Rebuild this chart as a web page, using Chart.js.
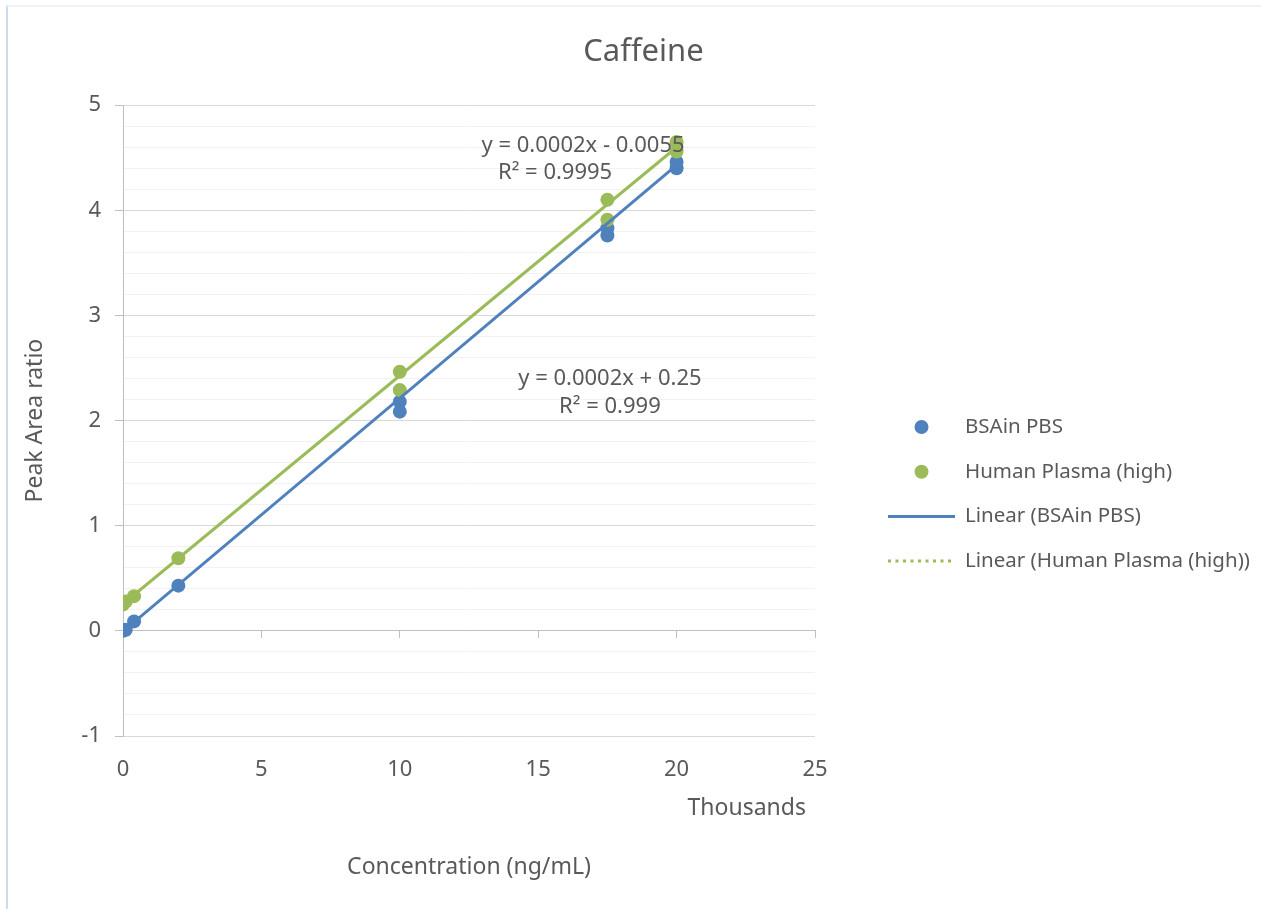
<!DOCTYPE html>
<html>
<head>
<meta charset="utf-8">
<title>Caffeine</title>
<script src="https://cdn.jsdelivr.net/npm/chart.js@4.4.0/dist/chart.umd.min.js"></script>
<style>
    html, body { margin: 0; padding: 0; background: #fff; }
    #wrap { position: relative; width: 1261px; height: 909px; }
    #frame {
        position: absolute; left: 6px; top: 5px; right: 0; bottom: 0;
        border-left: 2px solid #cddbee; border-top: 2px solid #eff3f9;
        pointer-events: none;
    }
</style>
</head>
<body>
<div id="wrap">
    <canvas id="myChart" width="1261" height="909"></canvas>
    <div id="frame"></div>
</div>
<script>
// concentrations in thousands of ng/mL
const concBSA = [0, 0.1, 0.4, 2, 10, 10, 17.5, 17.5, 20, 20];
const ratioBSA = [0, 0.01, 0.09, 0.43, 2.085, 2.18, 3.76, 3.83, 4.40, 4.46];
const concPlasma = [0, 0.1, 0.4, 2, 10, 10, 17.5, 17.5, 20, 20];
const ratioPlasma = [0.25, 0.28, 0.33, 0.69, 2.29, 2.465, 3.91, 4.10, 4.56, 4.65];

// trendline ends as drawn in the picture
const trendX = [0, 20];
const trendBSA = [-0.0055, 4.43];
const trendPlasma = [0.255, 4.60];

const seriesNames = ["BSAin PBS", "Human Plasma (high)", "Linear (BSAin PBS)", "Linear (Human Plasma (high))"];

// trendline equations and where they sit (data units)
const eqLabels = [
    {text: "y = 0.0002x - 0.0055", x: 16.62, y: 4.61},
    {text: "R\u00b2 = 0.9995", x: 15.61, y: 4.355},
    {text: "y = 0.0002x + 0.25", x: 17.59, y: 2.396},
    {text: "R\u00b2 = 0.999", x: 17.59, y: 2.13},
];

const BLUE = "#4f81bd";
const GREEN = "#9bbb59";
const TEXT = "#595959";
const MAJOR = "#d9d9d9";
const MINOR = "#f2f2f2";
const AXIS = "#bfbfbf";

Chart.defaults.font.family = "'Noto Sans', sans-serif";
Chart.defaults.color = TEXT;

const toPoints = (xs, ys) => xs.map((x, i) => ({x: x, y: ys[i]}));
const isMajor = (v) => Math.abs(v - Math.round(v)) < 1e-6;

// draws the display-unit label, equation labels and the side legend
const extraText = {
    id: "extraText",
    afterDraw(chart) {
        const ctx = chart.ctx;
        const xs = chart.scales.x;
        const ys = chart.scales.y;
        ctx.save();
        ctx.fillStyle = TEXT;
        ctx.textBaseline = "middle";

        ctx.font = "23px 'Noto Sans'";
        ctx.textAlign = "right";
        ctx.fillText("Thousands", xs.right - 9, 808);

        ctx.font = "22px 'Noto Sans'";
        ctx.textAlign = "center";
        eqLabels.forEach((l) => {
            ctx.fillText(l.text, xs.getPixelForValue(l.x), ys.getPixelForValue(l.y));
        });

        // legend
        const left = xs.right + 73;
        const markW = 67;
        let y = 427;
        ctx.font = "20.5px 'Noto Sans'";
        ctx.textAlign = "left";
        chart.data.datasets.forEach((ds) => {
            if (ds.showLine) {
                ctx.strokeStyle = ds.borderColor;
                ctx.lineWidth = 3;
                ctx.setLineDash(ds.legendDash || []);
                ctx.beginPath();
                ctx.moveTo(left, y);
                ctx.lineTo(left + markW, y);
                ctx.stroke();
                ctx.setLineDash([]);
            } else {
                ctx.fillStyle = ds.backgroundColor;
                ctx.beginPath();
                ctx.arc(left + markW / 2, y, 7, 0, Math.PI * 2);
                ctx.fill();
            }
            ctx.fillStyle = TEXT;
            ctx.fillText(ds.label, left + markW + 10, y);
            y += 44.7;
        });
        ctx.restore();
    }
};

const ctx = document.getElementById("myChart").getContext("2d");

const chart = new Chart(ctx, {
    type: "scatter",
    data: {
        datasets: [
            {
                label: seriesNames[0],
                data: toPoints(concBSA, ratioBSA),
                backgroundColor: BLUE,
                borderWidth: 0,
                pointRadius: 7,
                order: 3,
            },
            {
                label: seriesNames[1],
                data: toPoints(concPlasma, ratioPlasma),
                backgroundColor: GREEN,
                borderWidth: 0,
                pointRadius: 7,
                order: 2,
            },
            {
                label: seriesNames[2],
                data: toPoints(trendX, trendBSA),
                showLine: true,
                borderColor: BLUE,
                borderWidth: 3,
                pointRadius: 0,
                fill: false,
                order: 1,
            },
            {
                label: seriesNames[3],
                data: toPoints(trendX, trendPlasma),
                showLine: true,
                borderColor: GREEN,
                borderWidth: 3,
                pointRadius: 0,
                fill: false,
                legendDash: [3, 4.5],
                order: 0,
            },
        ],
    },
    options: {
        responsive: false,
        animation: false,
        events: [],
        layout: {
            padding: {top: 6, left: 26, right: 0, bottom: 0},
        },
        plugins: {
            legend: {display: false},
            tooltip: {enabled: false},
            title: {
                display: true,
                text: "Caffeine",
                color: TEXT,
                font: {size: 31, weight: "normal"},
                padding: {top: 28, bottom: 34},
            },
        },
        scales: {
            x: {
                type: "linear",
                position: "bottom",
                min: 0,
                max: 25,
                grid: {display: false},
                border: {display: false},
                ticks: {stepSize: 5, color: TEXT, font: {size: 22}, padding: 13},
                title: {
                    display: true,
                    text: "Concentration (ng/mL)",
                    color: TEXT,
                    font: {size: 23},
                    padding: {top: 0, bottom: 28},
                },
                afterFit: (s) => { s.height = 173; },
            },
            x0: {
                type: "linear",
                position: {y: 0},
                min: 0,
                max: 25,
                ticks: {display: false, stepSize: 5},
                grid: {drawOnChartArea: false, tickLength: 7, tickColor: AXIS, tickWidth: 1},
                border: {color: AXIS, width: 1},
            },
            y: {
                type: "linear",
                position: "left",
                min: -1,
                max: 5,
                ticks: {
                    stepSize: 0.2,
                    autoSkip: false,
                    color: TEXT,
                    font: {size: 22},
                    padding: 14,
                    callback: (v) => isMajor(v) ? String(Math.round(v)) : "",
                },
                grid: {
                    color: (c) => (c.tick && isMajor(c.tick.value)) ? MAJOR : MINOR,
                    tickColor: (c) => (c.tick && isMajor(c.tick.value)) ? AXIS : "rgba(0,0,0,0)",
                    tickLength: 8,
                    lineWidth: 1,
                },
                border: {color: AXIS, width: 1},
                title: {
                    display: true,
                    text: "Peak Area ratio",
                    color: TEXT,
                    font: {size: 23},
                    padding: {top: -4, bottom: 0},
                },
                afterFit: (s) => { s.width = 97; },
            },
            // empty right-hand axis that keeps room for the legend
            yr: {
                type: "linear",
                position: "right",
                display: true,
                grid: {display: false},
                border: {display: false},
                ticks: {display: false},
                afterFit: (s) => { s.width = 446; },
            },
        },
    },
    plugins: [extraText],
});
</script>
</body>
</html>
